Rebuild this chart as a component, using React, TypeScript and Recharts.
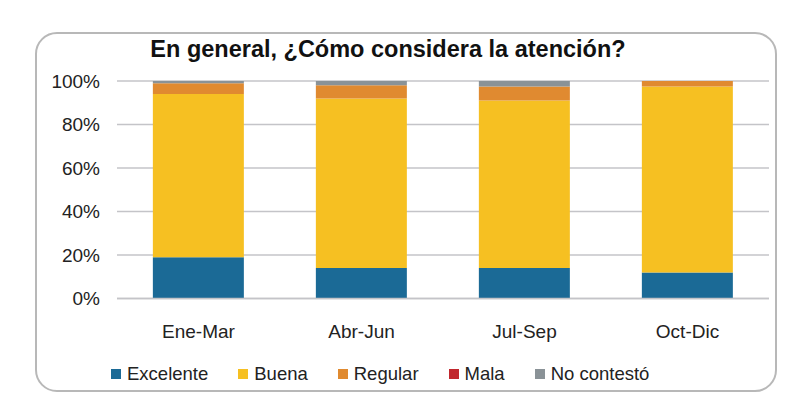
import React from 'react';
import { BarChart, Bar, XAxis, YAxis, CartesianGrid } from 'recharts';

// Trimestres y porcentajes
const periods = ['Ene-Mar', 'Abr-Jun', 'Jul-Sep', 'Oct-Dic'];
const excelente = [19, 14, 14, 12];
const buena = [75, 78, 77, 85.5];
const regular = [5, 6, 6.5, 2.5];
const mala = [0, 0, 0, 0];
const noContesto = [1, 2, 2.5, 0];
const yTicks = [0, 20, 40, 60, 80, 100];

const series = [
  { key: 'excelente', name: 'Excelente', color: '#1B6A96', values: excelente },
  { key: 'buena', name: 'Buena', color: '#F6C022', values: buena },
  { key: 'regular', name: 'Regular', color: '#E08A30', values: regular },
  { key: 'mala', name: 'Mala', color: '#C1272D', values: mala },
  { key: 'noContesto', name: 'No contestó', color: '#8A9297', values: noContesto },
];

const data = periods.map((p, i) => {
  const row: Record<string, string | number> = { period: p };
  series.forEach((s) => {
    row[s.key] = s.values[i];
  });
  return row;
});

const font = '"Liberation Sans", Arial, sans-serif';

export default function App() {
  return (
    <div style={{ position: 'absolute', left: 0, top: 0, width: 791, height: 412, background: '#fff' }}>
      <div
        style={{
          position: 'absolute',
          left: 35,
          top: 32,
          width: 738,
          height: 356,
          border: '2px solid #b8b8b8',
          borderRadius: 22,
        }}
      />
      <div
        style={{
          position: 'absolute',
          left: 0,
          width: 776,
          top: 36,
          textAlign: 'center',
          fontFamily: font,
          fontWeight: 'bold',
          fontSize: 23.5,
          color: '#111',
          whiteSpace: 'nowrap',
        }}
      >
        En general, ¿Cómo considera la atención?
      </div>
      <div style={{ position: 'absolute', left: 0, top: 0 }}>
        <BarChart
          width={791}
          height={412}
          data={data}
          margin={{ top: 81, right: 22, bottom: 83.5, left: 0 }}
          barCategoryGap="22%"
        >
          <CartesianGrid vertical={false} stroke="#c4c4c8" strokeWidth={1.5} />
          <XAxis
            dataKey="period"
            height={30}
            axisLine={{ stroke: '#c4c4c8', strokeWidth: 1.5 }}
            tickLine={false}
            tickSize={0}
            tickMargin={26}
            tick={{ fill: '#222', fontSize: 19, fontFamily: font }}
          />
          <YAxis
            width={117}
            domain={[0, 100]}
            ticks={yTicks}
            tickFormatter={(v: number) => `${v}%`}
            axisLine={false}
            tickLine={false}
            tickSize={0}
            tickMargin={17}
            tick={{ fill: '#222', fontSize: 19, fontFamily: font }}
          />
          {series.map((s) => (
            <Bar key={s.key} dataKey={s.key} name={s.name} stackId="a" fill={s.color} isAnimationActive={false} />
          ))}
        </BarChart>
      </div>
      <div
        style={{
          position: 'absolute',
          left: 111,
          top: 363,
          display: 'flex',
          gap: 30,
          fontFamily: font,
          fontSize: 18.5,
          color: '#222',
        }}
      >
        {series.map((s) => (
          <div key={s.key} style={{ display: 'flex', alignItems: 'center' }}>
            <span style={{ width: 10, height: 10, background: s.color, display: 'inline-block', marginRight: 6 }} />
            <span>{s.name}</span>
          </div>
        ))}
      </div>
    </div>
  );
}
